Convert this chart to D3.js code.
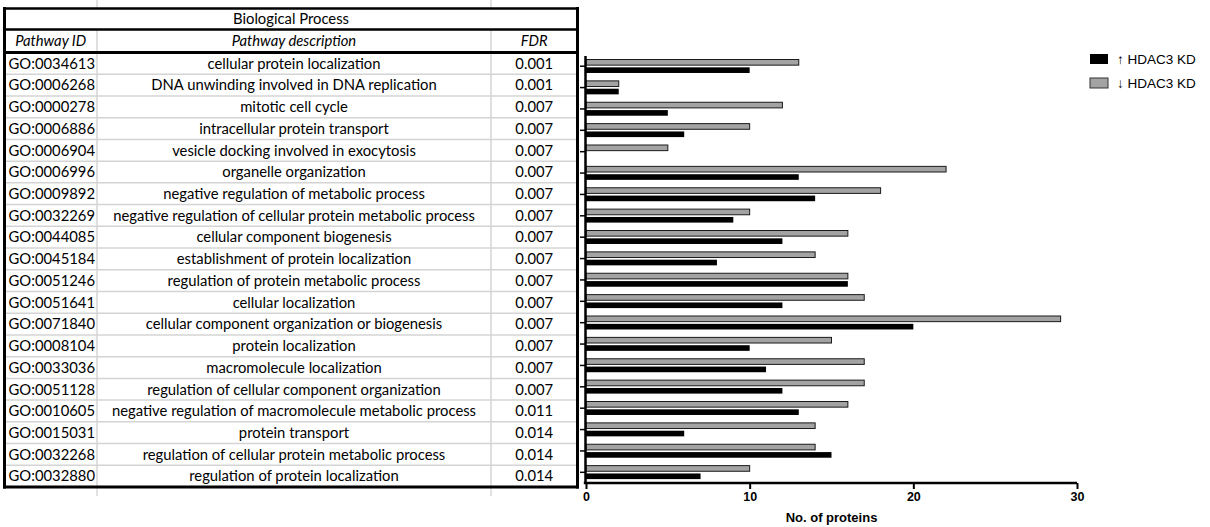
<!DOCTYPE html>
<html>
<head>
<meta charset="utf-8">
<script src="https://cdn.jsdelivr.net/npm/d3@7"></script>
<style>
  html, body { margin: 0; padding: 0; background: #fff; }
  svg { display: block; }
</style>
</head>
<body>
<svg id="chart" width="1210" height="527"></svg>
<script>
// GO enrichment table (Biological Process) with protein counts per pathway
const pathwayIds = [
  "GO:0034613", "GO:0006268", "GO:0000278", "GO:0006886", "GO:0006904",
  "GO:0006996", "GO:0009892", "GO:0032269", "GO:0044085", "GO:0045184",
  "GO:0051246", "GO:0051641", "GO:0071840", "GO:0008104", "GO:0033036",
  "GO:0051128", "GO:0010605", "GO:0015031", "GO:0032268", "GO:0032880"
];
const descriptions = [
  "cellular protein localization",
  "DNA unwinding involved in DNA replication",
  "mitotic cell cycle",
  "intracellular protein transport",
  "vesicle docking involved in exocytosis",
  "organelle organization",
  "negative regulation of metabolic process",
  "negative regulation of cellular protein metabolic process",
  "cellular component biogenesis",
  "establishment of protein localization",
  "regulation of protein metabolic process",
  "cellular localization",
  "cellular component organization or biogenesis",
  "protein localization",
  "macromolecule localization",
  "regulation of cellular component organization",
  "negative regulation of macromolecule metabolic process",
  "protein transport",
  "regulation of cellular protein metabolic process",
  "regulation of protein localization"
];
const fdrValues = [
  "0.001", "0.001", "0.007", "0.007", "0.007", "0.007", "0.007", "0.007", "0.007", "0.007",
  "0.007", "0.007", "0.007", "0.007", "0.007", "0.007", "0.011", "0.014", "0.014", "0.014"
];
// number of proteins: up-regulated / down-regulated after HDAC3 knockdown
const upCounts   = [10, 2, 5, 6, 0, 13, 14, 9, 12, 8, 16, 12, 20, 10, 11, 12, 13, 6, 15, 7];
const downCounts = [13, 2, 12, 10, 5, 22, 18, 10, 16, 14, 16, 17, 29, 15, 17, 17, 16, 14, 14, 10];
const seriesKeys   = ["down", "up"];
const seriesLabels = { up: "\u2191 HDAC3 KD", down: "\u2193 HDAC3 KD" };
const xTicks = [0, 10, 20, 30];
const tableTitle = "Biological Process";
const tableHeaders = ["Pathway ID", "Pathway description", "FDR"];
const xAxisTitle = "No. of proteins";

const colors = { up: "#000000", down: "#a3a3a3" };

const svg = d3.select("#chart");
const n = pathwayIds.length;
const rowsIdx = d3.range(n);

// ---------- table ----------
const tableFont = "Lato, 'Open Sans', sans-serif";
const colEdges = [4.5, 97, 491, 577.5];
const titleTop = 8.5, titleBottom = 29.5, headerBottom = 52.5, tableBottom = 487;

const rowY = d3.scaleBand().domain(rowsIdx).range([headerBottom, tableBottom]);

const table = svg.append("g").attr("class", "table");

// faint sheet gridline stubs above and below the table
[colEdges[1], colEdges[2]].forEach(xv => {
  table.append("line").attr("x1", xv).attr("x2", xv).attr("y1", 0).attr("y2", titleTop)
    .attr("stroke", "#d9d9d9").attr("stroke-width", 1.5);
  table.append("line").attr("x1", xv).attr("x2", xv).attr("y1", tableBottom).attr("y2", 496)
    .attr("stroke", "#d9d9d9").attr("stroke-width", 1.5);
});

// light inner grid
rowsIdx.slice(1).forEach(i => {
  table.append("line")
    .attr("x1", colEdges[0]).attr("x2", colEdges[3])
    .attr("y1", rowY(i)).attr("y2", rowY(i))
    .attr("stroke", "#d4d4d4").attr("stroke-width", 1.5);
});
[colEdges[1], colEdges[2]].forEach(xv => {
  table.append("line").attr("x1", xv).attr("x2", xv)
    .attr("y1", titleBottom).attr("y2", tableBottom)
    .attr("stroke", "#d4d4d4").attr("stroke-width", 1.5);
});

// heavy borders
const heavy = (x1, y1, x2, y2, w) => table.append("line")
  .attr("x1", x1).attr("y1", y1).attr("x2", x2).attr("y2", y2)
  .attr("stroke", "#000").attr("stroke-width", w).attr("stroke-linecap", "square");
heavy(colEdges[0], titleTop, colEdges[3], titleTop, 2.5);
heavy(colEdges[0], titleBottom, colEdges[3], titleBottom, 2.5);
heavy(colEdges[0], headerBottom, colEdges[3], headerBottom, 3);
heavy(colEdges[0], tableBottom, colEdges[3], tableBottom, 3);
heavy(colEdges[0], titleTop, colEdges[0], tableBottom, 3);
heavy(colEdges[3], titleTop, colEdges[3], tableBottom, 3);

const colCenters = [0, 1, 2].map(i => (colEdges[i] + colEdges[i + 1]) / 2);
const fs = 14.8;

table.append("text")
  .attr("x", (colEdges[0] + colEdges[3]) / 2).attr("y", (titleTop + titleBottom) / 2)
  .attr("dy", "0.36em").attr("text-anchor", "middle")
  .style("font-family", tableFont).style("font-size", fs + "px")
  .text(tableTitle);

table.selectAll("text.hdr").data(tableHeaders).join("text")
  .attr("class", "hdr")
  .attr("x", (d, i) => colCenters[i]).attr("y", (titleBottom + headerBottom) / 2)
  .attr("dy", "0.36em").attr("text-anchor", "middle")
  .style("font-family", tableFont).style("font-size", fs + "px").style("font-style", "italic")
  .text(d => d);

const cellCols = [pathwayIds, descriptions, fdrValues];
cellCols.forEach((col, ci) => {
  table.selectAll("text.c" + ci).data(col).join("text")
    .attr("class", "c" + ci)
    .attr("x", colCenters[ci] + (ci === 0 ? 1 : 0))
    .attr("y", (d, i) => rowY(i) + rowY.bandwidth() / 2)
    .attr("dy", "0.36em")
    .attr("text-anchor", "middle")
    .style("font-family", tableFont).style("font-size", fs + "px")
    .text(d => d);
});

// ---------- bar chart ----------
const x = d3.scaleLinear().domain([0, 30]).range([586, 1077]);
const y = d3.scaleBand().domain(rowsIdx).range([55.5, 483]);
const inner = d3.scaleBand().domain(seriesKeys)
  .range([4, y.bandwidth() - 3.9]).paddingInner(0.28);

const chart = svg.append("g").attr("class", "chart");

const rowsG = chart.selectAll("g.row").data(rowsIdx).join("g")
  .attr("class", "row")
  .attr("transform", i => `translate(0,${y(i)})`);

rowsG.selectAll("rect")
  .data(i => seriesKeys.map(k => ({ key: k, value: k === "up" ? upCounts[i] : downCounts[i] })))
  .join("rect")
  .attr("x", x(0))
  .attr("y", d => inner(d.key))
  .attr("width", d => x(d.value) - x(0))
  .attr("height", inner.bandwidth())
  .attr("fill", d => colors[d.key])
  .attr("stroke", d => d.key === "down" ? "#1a1a1a" : "none")
  .attr("stroke-width", 1)
  .style("display", d => d.value > 0 ? null : "none");

// axes
const yAxis = chart.append("g")
  .attr("transform", `translate(${x(0) - 1},0)`)
  .call(d3.axisLeft(y).tickSize(5).tickSizeOuter(0).tickFormat(""));
yAxis.select(".domain").attr("stroke-width", 2.5);
yAxis.selectAll(".tick line").attr("stroke-width", 1.5);

const xAxis = chart.append("g")
  .attr("transform", `translate(0,${483})`)
  .call(d3.axisBottom(x).tickValues(xTicks).tickSize(6).tickSizeOuter(0).tickPadding(3));
xAxis.select(".domain").attr("stroke-width", 2.5).attr("d", `M${x(0) - 2.2},0H${x(30)}`);
xAxis.selectAll(".tick line").attr("stroke-width", 2);
xAxis.selectAll(".tick text")
  .style("font-family", "'Liberation Sans', Arial, sans-serif")
  .style("font-size", "12.5px").style("font-weight", "bold").attr("fill", "#000");

chart.append("text")
  .attr("x", (x(0) + x(30)) / 2).attr("y", 522)
  .attr("text-anchor", "middle")
  .style("font-family", "'Liberation Sans', Arial, sans-serif")
  .style("font-size", "13px").style("font-weight", "bold")
  .text(xAxisTitle);

// legend
const legendKeys = ["up", "down"];
const legend = chart.selectAll("g.legend").data(legendKeys).join("g")
  .attr("class", "legend")
  .attr("transform", (d, i) => `translate(1090,${54 + i * 24})`);
legend.append("rect")
  .attr("width", 18).attr("height", 10)
  .attr("fill", d => colors[d])
  .attr("stroke", d => d === "down" ? "#333" : "none").attr("stroke-width", 1);
legend.append("text")
  .attr("x", 27).attr("y", 5).attr("dy", "0.36em")
  .style("font-family", "'Liberation Sans', Arial, sans-serif")
  .style("font-size", "13.5px")
  .text(d => seriesLabels[d]);
</script>
</body>
</html>
